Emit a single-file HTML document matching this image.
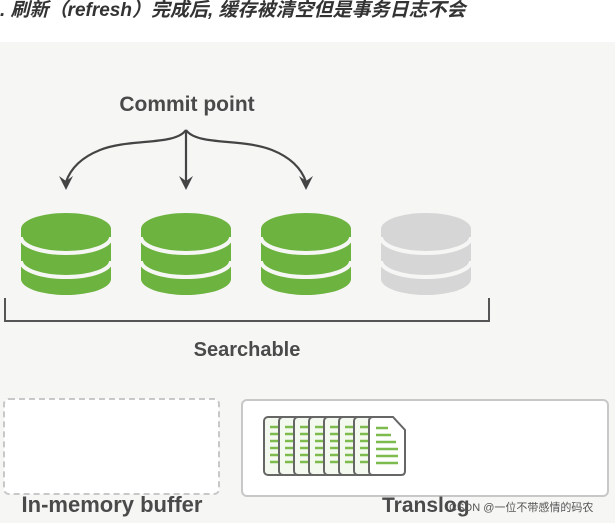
<!DOCTYPE html>
<html><head><meta charset="utf-8"><style>
body{margin:0;width:615px;height:523px;overflow:hidden;background:#fff}
</style></head><body>
<svg width="615" height="523" xmlns="http://www.w3.org/2000/svg" font-family="Liberation Sans, sans-serif">
<rect x="0" y="0" width="615" height="42" fill="#fff"/>
<rect x="0" y="42" width="615" height="481" fill="#f6f7f4"/>
<text x="0" y="16" font-size="19" font-weight="bold" font-style="italic" fill="#333" font-family="Liberation Sans, Noto Sans CJK SC, sans-serif">. 刷新（refresh）完成后, 缓存被清空但是事务日志不会</text>
<text x="187" y="111" font-size="21" font-weight="bold" fill="#4a4a4a" text-anchor="middle">Commit point</text>
<g fill="none" stroke="#444" stroke-width="2.2">
<path d="M186 130 L186 182"/>
<path d="M186 130 C175 146 130 138 100 150 C80 158 70 170 66 182"/>
<path d="M186 130 C197 146 242 138 272 150 C292 158 302 170 306 182"/>
</g>
<g fill="#444">
<path d="M59 176 L66 190 L73 176 L66 181Z"/>
<path d="M179 176 L186 190 L193 176 L186 181Z"/>
<path d="M299 176 L306 190 L313 176 L306 181Z"/>
</g>
<defs>
<g id="cyl">
<rect x="-45" y="229" width="90" height="50"/>
<ellipse cx="0" cy="279" rx="45" ry="16"/>
<ellipse cx="0" cy="229" rx="45" ry="16"/>
<path d="M-45 237 A45 16 0 0 0 45 237" fill="none" stroke="#f6f7f4" stroke-width="4"/>
<path d="M-45 261 A45 16 0 0 0 45 261" fill="none" stroke="#f6f7f4" stroke-width="4"/>
</g>
</defs>
<g fill="#6db33f">
<use href="#cyl" transform="translate(66,0)"/>
<use href="#cyl" transform="translate(186,0)"/>
<use href="#cyl" transform="translate(306,0)"/>
</g>
<g fill="#d6d6d6"><use href="#cyl" transform="translate(426,0)"/></g>
<path d="M5 298 L5 321 L489 321 L489 298" fill="none" stroke="#555" stroke-width="2"/>
<text x="247" y="356" font-size="20" font-weight="bold" fill="#4a4a4a" text-anchor="middle">Searchable</text>
<rect x="4" y="399" width="215" height="95" rx="5" fill="#fff" stroke="#c8c8c8" stroke-width="2" stroke-dasharray="6 4"/>
<rect x="242" y="400" width="366" height="96" rx="5" fill="#fff" stroke="#c8c8c8" stroke-width="2"/>
<g stroke="#666" stroke-width="2">
<rect x="264" y="417" width="30" height="58" rx="4" fill="#f4f9ef"/>
<rect x="279" y="417" width="30" height="58" rx="4" fill="#f4f9ef"/>
<rect x="294" y="417" width="30" height="58" rx="4" fill="#f4f9ef"/>
<rect x="309" y="417" width="30" height="58" rx="4" fill="#f4f9ef"/>
<rect x="324" y="417" width="30" height="58" rx="4" fill="#f4f9ef"/>
<rect x="339" y="417" width="30" height="58" rx="4" fill="#f4f9ef"/>
<rect x="354" y="417" width="30" height="58" rx="4" fill="#f4f9ef"/>
<path d="M369 421 Q369 417 373 417 L393 417 L405 430 L405 471 Q405 475 401 475 L373 475 Q369 475 369 471Z" fill="#fff"/>
</g>
<g stroke="#7dbb4f" stroke-width="2.5">
<path d="M270 427h8M270 434h8M270 441h8M270 448h8M270 455h8M270 462h8"/>
<path d="M285 427h8M285 434h8M285 441h8M285 448h8M285 455h8M285 462h8"/>
<path d="M300 427h8M300 434h8M300 441h8M300 448h8M300 455h8M300 462h8"/>
<path d="M315 427h8M315 434h8M315 441h8M315 448h8M315 455h8M315 462h8"/>
<path d="M330 427h8M330 434h8M330 441h8M330 448h8M330 455h8M330 462h8"/>
<path d="M345 427h8M345 434h8M345 441h8M345 448h8M345 455h8M345 462h8"/>
<path d="M360 427h8M360 434h8M360 441h8M360 448h8M360 455h8M360 462h8"/>
<path d="M376 428h12M376 435h15M376 442h20M376 449h22M376 456h22M376 463h22"/>
</g>
<text x="112" y="512" font-size="22" font-weight="bold" fill="#4a4a4a" text-anchor="middle">In-memory buffer</text>
<text x="382" y="512" font-size="21" font-weight="bold" fill="#4a4a4a">Translog</text>
<text x="449" y="511" font-size="11" fill="#555" font-family="Liberation Sans, Noto Sans CJK SC, sans-serif">CSDN @一位不带感情的码农</text>
</svg>
</body></html>
